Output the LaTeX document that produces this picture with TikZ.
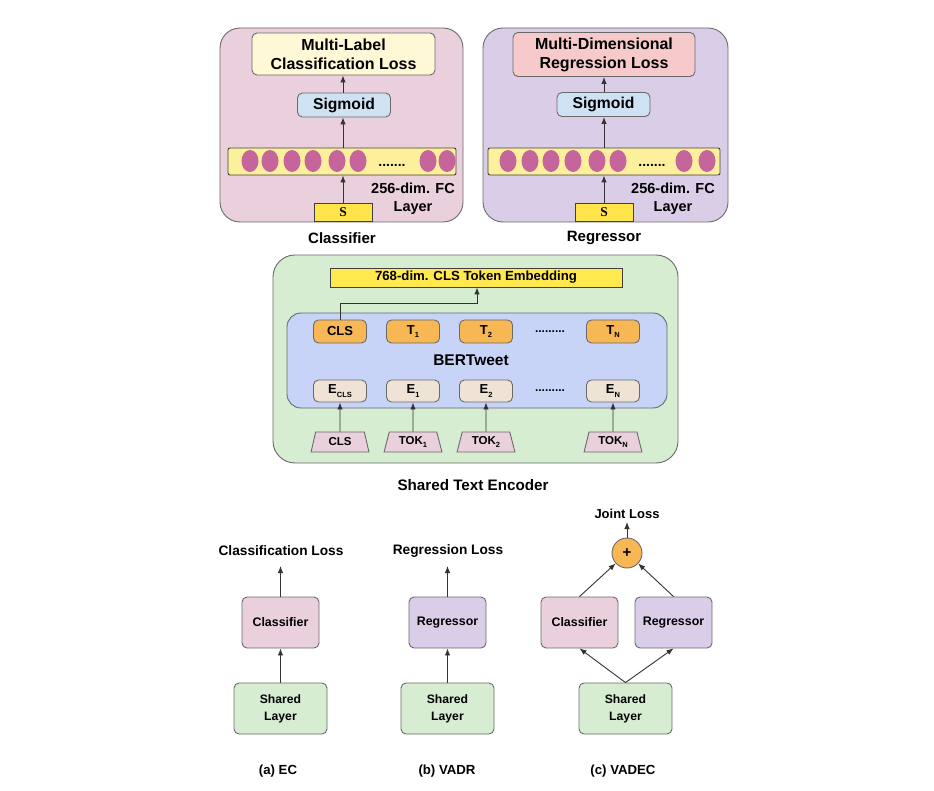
\documentclass[tikz,border=0pt]{standalone}
\usepackage{fontspec}
\setmainfont{Liberation Sans}
\newfontfamily\serifS{Liberation Serif}
\usetikzlibrary{arrows.meta,shapes.geometric}
\definecolor{pinkc}{HTML}{EACFDC}
\definecolor{lavc}{HTML}{D9CDE8}
\definecolor{greenc}{HTML}{D6EDD2}
\definecolor{bluec}{HTML}{C8D3F8}
\definecolor{sigc}{HTML}{CFE2F3}
\definecolor{lossyc}{HTML}{FEF8D6}
\definecolor{lossrc}{HTML}{F6CACB}
\definecolor{fcc}{HTML}{FDF09C}
\definecolor{sc}{HTML}{FFE44A}
\definecolor{dotc}{HTML}{C6659B}
\definecolor{orc}{HTML}{F8B755}
\definecolor{beigec}{HTML}{EEE3D4}
\definecolor{embc}{HTML}{FFE94F}
\definecolor{bordc}{HTML}{6A6A6A}
\newcommand\mysub[1]{{\fontsize{7.5}{7.5}\selectfont\raisebox{-3.5pt}{#1}}}
\tikzset{
  rbox/.style={draw=bordc, line width=0.9pt, rounded corners=5pt, font=\bfseries, inner sep=0pt, align=center},
  cont/.style={draw=bordc, line width=0.9pt, rounded corners=20pt, inner sep=0pt},
  lbl/.style={font=\bfseries, inner sep=0pt, align=center},
  arr/.style={-{Latex[length=7pt,width=5.5pt]}, line width=0.9pt, draw=black!80},
  dotn/.style={ellipse, fill=dotc, minimum width=17pt, minimum height=22pt, inner sep=0pt},
  tokn/.style={trapezium, trapezium left angle=75, trapezium right angle=75, trapezium stretches=true, draw=bordc, line width=0.9pt, fill=pinkc, minimum width=58pt, minimum height=20pt, inner sep=0pt, font=\bfseries\fontsize{11.5}{11.5}\selectfont},
  tbox/.style={rbox, fill=orc, minimum width=53pt, minimum height=23pt, font=\bfseries\fontsize{13}{13}\selectfont},
  ebox/.style={rbox, fill=beigec, minimum width=53pt, minimum height=22pt, font=\bfseries\fontsize{13}{13}\selectfont},
  smbox/.style={rbox, minimum width=77pt, minimum height=51pt, font=\bfseries\fontsize{12.4}{12.4}\selectfont},
  shbox/.style={rbox, fill=greenc, minimum width=93pt, minimum height=51pt, font=\bfseries\fontsize{12.2}{17}\selectfont},
}
\begin{document}
\begin{tikzpicture}[x=1pt,y=-1pt]
\useasboundingbox (0,0) rectangle (934,791);
\fill[white] (0,0) rectangle (934,791);

% ---------- Classifier panel ----------
\node[cont, fill=pinkc, minimum width=243pt, minimum height=194pt] (clsbox) at (341.5,125) {};
\node[rbox, fill=lossyc, minimum width=183pt, minimum height=42pt, font=\bfseries\fontsize{16}{19}\selectfont] (mlloss) at (343.5,54) {Multi-Label\\Classification Loss};
\node[rbox, fill=sigc, minimum width=93pt, minimum height=24pt, font=\bfseries\fontsize{15.7}{15.7}\selectfont] (sig1) at (344,105) {Sigmoid};
\node[draw=black!75, line width=0.9pt, rounded corners=2pt, fill=fcc, minimum width=228pt, minimum height=27pt, inner sep=0pt] (fc1) at (342,161.5) {};
\foreach \x/\n in {250/a,270/b,292/c,313/d,337/e,358/f,428/g,447/h}
  \node[dotn] (d1\n) at (\x,161) {};
\node[lbl, font=\bfseries\fontsize{14}{14}\selectfont] (dots1) at (392,165) {.......};
\node[draw=black!75, line width=0.9pt, fill=sc, minimum width=58pt, minimum height=18pt, inner sep=0pt, font=\serifS\bfseries\fontsize{13.5}{13.5}\selectfont] (s1) at (343,212) {S};
\node[lbl, font=\bfseries\fontsize{14.5}{18}\selectfont] (fcl1) at (413,199) {256-dim. FC\\Layer};
\node[lbl, font=\bfseries\fontsize{15}{15}\selectfont] (clsname) at (342,238) {Classifier};
\draw[arr] (s1.north) -- (s1.north |- fc1.south);
\draw[arr] (fc1.north -| s1.north) -- (s1.north |- sig1.south);
\draw[arr] (sig1.north -| s1.north) -- (s1.north |- mlloss.south);

% ---------- Regressor panel ----------
\node[cont, fill=lavc, minimum width=245pt, minimum height=194pt] (regbox) at (605.5,125) {};
\node[rbox, fill=lossrc, minimum width=182pt, minimum height=44pt, font=\bfseries\fontsize{16}{19}\selectfont] (mdloss) at (604,54.5) {Multi-Dimensional\\Regression Loss};
\node[rbox, fill=sigc, minimum width=93pt, minimum height=24pt, font=\bfseries\fontsize{15.7}{15.7}\selectfont] (sig2) at (603.5,104.5) {Sigmoid};
\node[draw=black!75, line width=0.9pt, rounded corners=2pt, fill=fcc, minimum width=232pt, minimum height=27pt, inner sep=0pt] (fc2) at (604,161.5) {};
\foreach \x/\n in {508/a,530/b,551/c,573/d,597/e,618/f,684/g,707/h}
  \node[dotn] (d2\n) at (\x,161) {};
\node[lbl, font=\bfseries\fontsize{14}{14}\selectfont] (dots2) at (652,165) {.......};
\node[draw=black!75, line width=0.9pt, fill=sc, minimum width=58pt, minimum height=18pt, inner sep=0pt, font=\serifS\bfseries\fontsize{13.5}{13.5}\selectfont] (s2) at (604,212) {S};
\node[lbl, font=\bfseries\fontsize{14.5}{18}\selectfont] (fcl2) at (673,199) {256-dim. FC\\Layer};
\node[lbl, font=\bfseries\fontsize{15}{15}\selectfont] (regname) at (604,238) {Regressor};
\draw[arr] (s2.north) -- (s2.north |- fc2.south);
\draw[arr] (fc2.north -| s2.north) -- (s2.north |- sig2.south);
\draw[arr] (sig2.north -| s2.north) -- (s2.north |- mdloss.south);

% ---------- Shared Text Encoder ----------
\node[cont, fill=greenc, rounded corners=22pt, minimum width=405pt, minimum height=208pt] (encbox) at (475.5,359) {};
\node[draw=black!75, line width=0.9pt, fill=embc, minimum width=292pt, minimum height=19pt, inner sep=0pt, font=\bfseries\fontsize{13.2}{13.2}\selectfont] (emb) at (476,277.5) {768-dim. CLS Token Embedding};
\node[draw=bordc, line width=0.9pt, rounded corners=14pt, fill=bluec, minimum width=380pt, minimum height=95pt, inner sep=0pt] (bert) at (477,360.5) {};
\node[lbl, font=\bfseries\fontsize{15.5}{15.5}\selectfont] (bertname) at (471,360) {BERTweet};
\node[tbox] (tcls) at (340,331.5) {CLS};
\node[tbox] (t1) at (413,331.5) {T\mysub{1}};
\node[tbox] (t2) at (486,331.5) {T\mysub{2}};
\node[tbox] (tn) at (613,331.5) {T\mysub{N}};
\node[lbl, font=\bfseries\fontsize{12}{12}\selectfont] (tdots) at (550,332) {.........};
\node[ebox] (ecls) at (340,391) {E\mysub{CLS}};
\node[ebox] (e1) at (413,391) {E\mysub{1}};
\node[ebox] (e2) at (486,391) {E\mysub{2}};
\node[ebox] (en) at (613,391) {E\mysub{N}};
\node[lbl, font=\bfseries\fontsize{12}{12}\selectfont] (edots) at (550,391) {.........};
\node[tokn] (kcls) at (340,442) {CLS};
\node[tokn] (k1) at (413,442) {TOK\mysub{1}};
\node[tokn] (k2) at (486,442) {TOK\mysub{2}};
\node[tokn] (kn) at (613,442) {TOK\mysub{N}};
\draw[arr] (kcls.north) -- (ecls.south);
\draw[arr] (k1.north) -- (e1.south);
\draw[arr] (k2.north) -- (e2.south);
\draw[arr] (kn.north) -- (en.south);
\coordinate (bend) at (477,303);
\draw[arr] (tcls.north) |- (bend) -- (bend |- emb.south);
\node[lbl, font=\bfseries\fontsize{15.2}{15.2}\selectfont] (encname) at (473,485) {Shared Text Encoder};

% ---------- (a) EC ----------
\node[lbl, font=\bfseries\fontsize{13.7}{13.7}\selectfont] (closs) at (281,551) {Classification Loss};
\coordinate (clossend) at (280.5,566);
\node[smbox, fill=pinkc] (cla) at (280.5,622.5) {Classifier};
\node[shbox] (sha) at (280.5,708.5) {Shared\\Layer};
\draw[arr] (sha.north) -- (cla.south);
\draw[arr] (cla.north) -- (clossend);
\node[lbl, font=\bfseries\fontsize{13.2}{13.2}\selectfont] (capa) at (278,771) {(a) EC};

% ---------- (b) VADR ----------
\node[lbl, font=\bfseries\fontsize{13.7}{13.7}\selectfont] (rloss) at (448,551) {Regression Loss};
\coordinate (rlossend) at (447.5,566);
\node[smbox, fill=lavc] (rgb) at (447.5,622.5) {Regressor};
\node[shbox] (shb) at (447.5,708.5) {Shared\\Layer};
\draw[arr] (shb.north) -- (rgb.south);
\draw[arr] (rgb.north) -- (rlossend);
\node[lbl, font=\bfseries\fontsize{13.2}{13.2}\selectfont] (capb) at (447,771) {(b) VADR};

% ---------- (c) VADEC ----------
\node[lbl, font=\bfseries\fontsize{13}{13}\selectfont] (jloss) at (627,514) {Joint Loss};
\node[circle, draw=bordc, line width=0.9pt, fill=orc, minimum size=30pt, inner sep=0pt, font=\bfseries\fontsize{15}{15}\selectfont] (plus) at (627,553) {+};
\coordinate (jlossend) at (627,522);
\node[smbox, fill=pinkc] (clc) at (579.5,622.5) {Classifier};
\node[smbox, fill=lavc] (rgc) at (673.5,622.5) {Regressor};
\node[shbox] (shc) at (625.5,708.5) {Shared\\Layer};
\draw[arr] (shc.north) -- (clc.south);
\draw[arr] (shc.north) -- (rgc.south);
\draw[arr] (clc.north) -- (plus);
\draw[arr] (rgc.north) -- (plus);
\draw[arr] (plus.north) -- (jlossend);
\node[lbl, font=\bfseries\fontsize{13.2}{13.2}\selectfont] (capc) at (623,771) {(c) VADEC};
\end{tikzpicture}
\end{document}
